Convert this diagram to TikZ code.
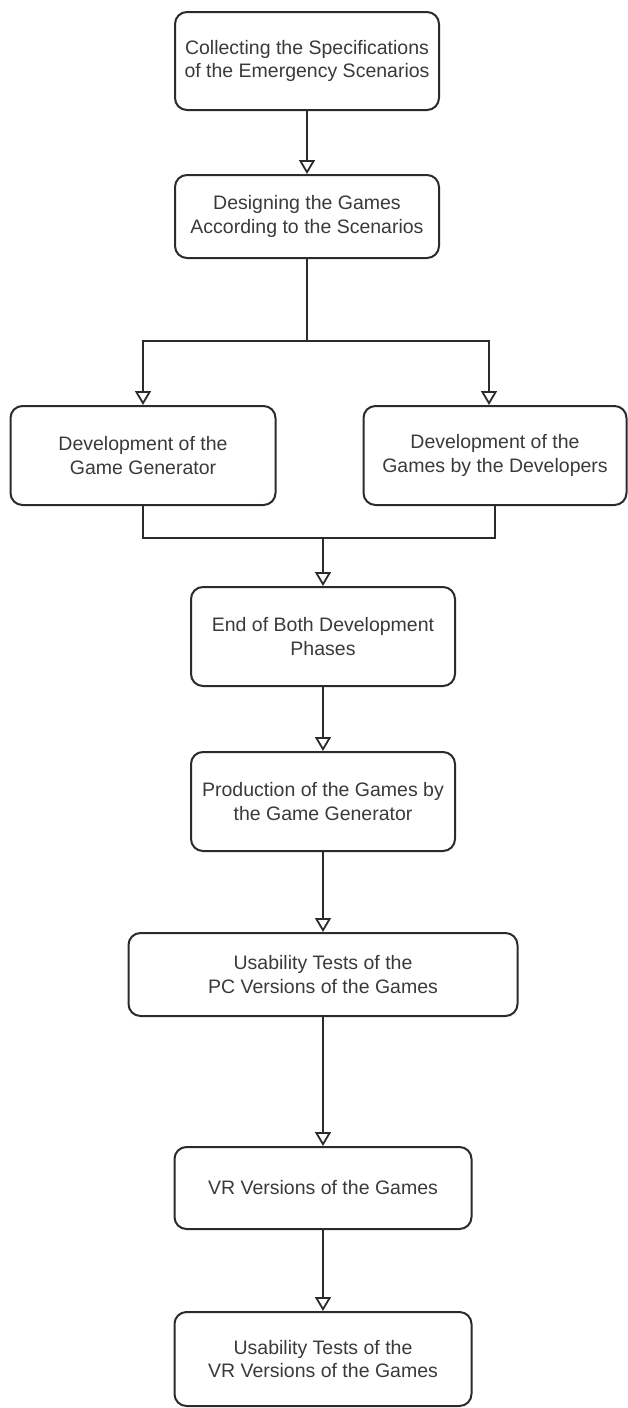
\documentclass[tikz,border=0pt]{standalone}
\usepackage{fontspec}
\setmainfont{Liberation Sans}
\usetikzlibrary{arrows.meta}
\definecolor{linecol}{HTML}{2B2B2B}
\definecolor{textcol}{HTML}{3A3A3A}
\begin{document}
\begin{tikzpicture}[x=1pt,y=-1pt,
  box/.style={draw=linecol, line width=2pt, rounded corners=12pt, fill=white,
    align=center, text=textcol, inner sep=0pt,
    font=\fontsize{19.5}{23.5}\selectfont},
  flow/.style={draw=linecol, line width=2pt,
    -{Triangle[open, width=16pt, length=14pt, line width=1.8pt]}},
  link/.style={draw=linecol, line width=2pt}]
  \useasboundingbox (0,0) rectangle (627,1408);

  % process boxes
  \node[box, minimum width=264pt, minimum height=98pt] (n1) at (307,61)
    {Collecting the Specifications\\of the Emergency Scenarios};
  \node[box, minimum width=264pt, minimum height=83pt] (n2) at (307,216.5)
    {Designing the Games\\According to the Scenarios};
  \node[box, minimum width=265pt, minimum height=99pt] (n3) at (143,455.5)
    {Development of the\\Game Generator};
  \node[box, minimum width=263pt, minimum height=99pt] (n4) at (495,455.5)
    {Development of the\\Games by the Developers};
  \node[box, minimum width=264pt, minimum height=99pt] (n5) at (323,636.5)
    {End of Both Development\\Phases};
  \node[box, minimum width=264pt, minimum height=99pt] (n6) at (323,801.5)
    {Production of the Games by\\the Game Generator};
  \node[box, minimum width=389pt, minimum height=83pt] (n7) at (323,974.5)
    {Usability Tests of the\\PC Versions of the Games};
  \node[box, minimum width=297pt, minimum height=82pt] (n8) at (323,1188)
    {VR Versions of the Games};
  \node[box, minimum width=297pt, minimum height=94pt] (n9) at (323,1359)
    {Usability Tests of the\\VR Versions of the Games};

  % branch points
  \coordinate (split) at (307,341);
  \coordinate (merge) at (323,538);
  \coordinate (rin) at ([xshift=-6pt]n4.north);

  % connectors
  \draw[flow] (n1.south) -- (n2.north);
  \draw[link] (n2.south) -- (split);
  \draw[flow] (split) -| (n3.north);
  \draw[flow] (split) -| (rin);
  \draw[link] (n3.south) |- (merge);
  \draw[link] (n4.south) |- (merge);
  \draw[flow] (merge) -- (n5.north);
  \draw[flow] (n5.south) -- (n6.north);
  \draw[flow] (n6.south) -- (n7.north);
  \draw[flow] (n7.south) -- (n8.north);
  \draw[flow] (n8.south) -- (n9.north);
\end{tikzpicture}
\end{document}
